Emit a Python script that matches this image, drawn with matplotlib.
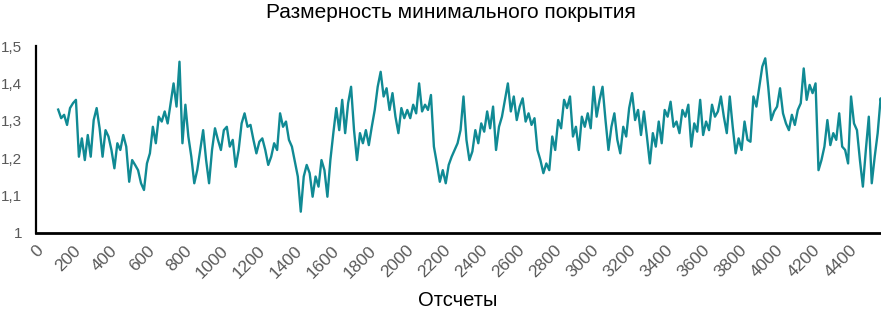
import matplotlib
matplotlib.use("Agg")
import matplotlib.pyplot as plt
import numpy as np

plt.rcParams['font.family'] = ['Liberation Sans', 'DejaVu Sans']

# values, one every 16 samples starting at sample 120
start_sample = 120
step = 16
dimension = [
    # 120 .. 632
    1.330, 1.307, 1.316, 1.289, 1.334, 1.347, 1.356, 1.204, 1.253, 1.195,
    1.262, 1.204, 1.302, 1.334, 1.280, 1.204, 1.275, 1.258, 1.222, 1.173,
    1.240, 1.222, 1.262, 1.231, 1.137, 1.195, 1.182, 1.168, 1.133, 1.115,
    1.186, 1.213, 1.284,
    # 648 .. 1208
    1.240, 1.311, 1.298, 1.325, 1.293, 1.347, 1.400, 1.338, 1.458, 1.240,
    1.343, 1.258, 1.204, 1.133, 1.168, 1.222, 1.275, 1.195, 1.133, 1.222,
    1.280, 1.249, 1.222, 1.275, 1.284, 1.231, 1.249, 1.177, 1.222, 1.293,
    1.320, 1.284, 1.289, 1.249, 1.213, 1.244,
    # 1224 .. 1784
    1.253, 1.222, 1.182, 1.204, 1.240, 1.222, 1.320, 1.284, 1.298, 1.249,
    1.231, 1.191, 1.151, 1.057, 1.151, 1.182, 1.160, 1.097, 1.151, 1.124,
    1.195, 1.168, 1.097, 1.195, 1.267, 1.334, 1.275, 1.356, 1.267, 1.347,
    1.391, 1.275, 1.195, 1.267, 1.240, 1.275,
    # 1800 .. 2344
    1.235, 1.284, 1.329, 1.391, 1.431, 1.365, 1.387, 1.329, 1.374, 1.311,
    1.267, 1.334, 1.307, 1.329, 1.307, 1.343, 1.320, 1.400, 1.325, 1.343,
    1.329, 1.369, 1.231, 1.186, 1.137, 1.168, 1.133, 1.182, 1.204, 1.222,
    1.240, 1.275, 1.365, 1.249, 1.195,
    # 2360 .. 2920
    1.218, 1.275, 1.240, 1.293, 1.271, 1.325, 1.280, 1.338, 1.222, 1.284,
    1.311, 1.356, 1.400, 1.325, 1.365, 1.302, 1.338, 1.360, 1.298, 1.320,
    1.289, 1.307, 1.222, 1.195, 1.160, 1.186, 1.168, 1.258, 1.222, 1.302,
    1.280, 1.356, 1.334, 1.365, 1.258, 1.284,
    # 2936 .. 3480
    1.222, 1.311, 1.284, 1.320, 1.280, 1.391, 1.311, 1.356, 1.391, 1.302,
    1.222, 1.284, 1.320, 1.249, 1.213, 1.284, 1.258, 1.334, 1.374, 1.302,
    1.329, 1.262, 1.325, 1.258, 1.186, 1.267, 1.231, 1.298, 1.240, 1.329,
    1.311, 1.351, 1.284, 1.298, 1.267,
    # 3496 .. 4056
    1.329, 1.311, 1.343, 1.231, 1.293, 1.271, 1.356, 1.262, 1.298, 1.275,
    1.343, 1.311, 1.325, 1.365, 1.311, 1.267, 1.365, 1.284, 1.213, 1.253,
    1.222, 1.298, 1.249, 1.244, 1.365, 1.338, 1.391, 1.445, 1.467, 1.391,
    1.302, 1.325, 1.338, 1.387, 1.320, 1.293,
    # 4072 .. 4584
    1.275, 1.316, 1.289, 1.329, 1.347, 1.440, 1.356, 1.396, 1.374, 1.400,
    1.168, 1.195, 1.231, 1.302, 1.235, 1.267, 1.249, 1.320, 1.231, 1.222,
    1.186, 1.365, 1.293, 1.275, 1.195, 1.124, 1.222, 1.311, 1.133, 1.204,
    1.267, 1.360, 1.311,
]
samples = start_sample + step * np.arange(len(dimension))

x_ticks = list(range(0, 4401, 200))
y_ticks = [1, 1.1, 1.2, 1.3, 1.4, 1.5]
y_labels = ["1", "1,1", "1,2", "1,3", "1,4", "1,5"]

fig = plt.figure(figsize=(8.81, 3.10), dpi=100)
ax = fig.add_axes([36 / 881, 77 / 310, 845 / 881, 187 / 310])

ax.plot(samples, dimension, color="#108a94", linewidth=1.7)

ax.set_xlim(0, 4570)
ax.set_ylim(1, 1.5)
ax.set_xticks(x_ticks)
ax.set_xticklabels([str(t) for t in x_ticks], rotation=45, ha="right",
                   va="top", rotation_mode="anchor", color="#595959", fontsize=12.5)
ax.set_yticks(y_ticks)
ax.set_yticklabels(y_labels, color="#595959", fontsize=11)
ax.tick_params(axis="x", length=0, pad=7)
ax.tick_params(axis="y", length=0, pad=10)

for side in ["top", "right"]:
    ax.spines[side].set_visible(False)
ax.spines["left"].set_linewidth(1.6)
ax.spines["bottom"].set_linewidth(2.0)

fig.text(458 / 881, 1 - 301 / 310, "Отсчеты", ha="center", va="center", fontsize=14.5)
fig.text(451 / 881, 1 - 12 / 310, "Размерность минимального покрытия",
         ha="center", va="center", fontsize=15)

fig.savefig("out.png", dpi=100)
